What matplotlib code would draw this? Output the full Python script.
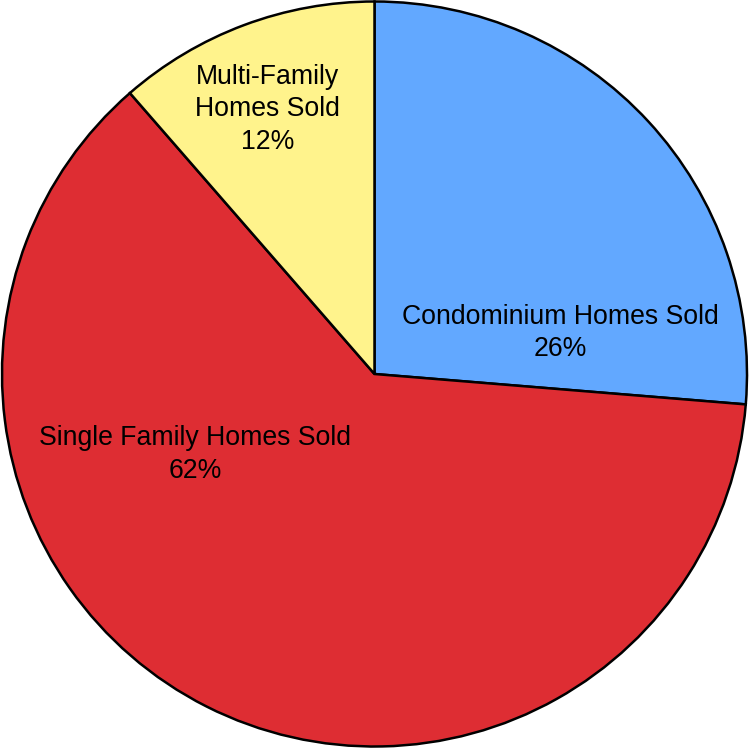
import matplotlib
matplotlib.use("Agg")
import matplotlib.pyplot as plt

categories = ["Condominium Homes Sold", "Single Family Homes Sold", "Multi-Family\nHomes Sold"]
values = [26.3, 62.3, 11.4]
pct_labels = ["26%", "62%", "12%"]
colors = ["#62A8FF", "#DE2D33", "#FFF38C"]
label_pos = [(0.50, 0.110), (-0.482, -0.216), (-0.288, 0.711)]

plt.rcParams['font.family'] = ['Liberation Sans', 'DejaVu Sans']
fig = plt.figure(figsize=(7.49, 7.48), dpi=100)
ax = fig.add_axes([0, 0, 1, 1])
ax.pie(values, colors=colors, startangle=90, counterclock=False, radius=1,
       wedgeprops=dict(edgecolor="black", linewidth=1.8))
for cat, pl, (x, y) in zip(categories, pct_labels, label_pos):
    ax.text(x, y, f"{cat}\n{pl}", ha="center", va="center",
            fontsize=19.2, linespacing=1.32, color="black")
R = 372.5
ax.set_xlim(-374.5 / R, (749 - 374.5) / R)
ax.set_ylim(-(748 - 374) / R, 374 / R)
ax.set_aspect("auto")
ax.axis("off")
fig.savefig("out.png", dpi=100)
